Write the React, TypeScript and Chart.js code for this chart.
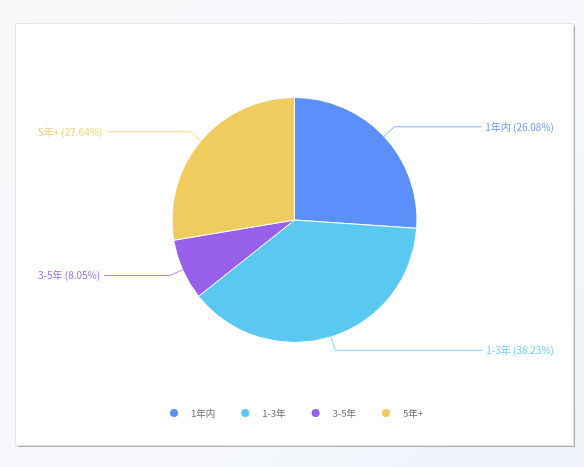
import React, { useEffect, useRef } from "react";
import { Chart, registerables } from "chart.js";

Chart.register(...registerables);

const categories = ["1年内", "1-3年", "3-5年", "5年+"];
const shares = [26.08, 38.23, 8.05, 27.64];
const colors = ["#5B8FF9", "#5BC8F1", "#9661E8", "#F0CB5E"];

const FONT = '"Noto Sans CJK SC", "Noto Sans", sans-serif';

function withAlpha(hex: string, a: number) {
  const n = parseInt(hex.slice(1), 16);
  return `rgba(${(n >> 16) & 255},${(n >> 8) & 255},${n & 255},${a})`;
}

const outerLabels = {
  id: "outerLabels",
  afterDatasetsDraw(chart: any) {
    const ctx = chart.ctx;
    const meta = chart.getDatasetMeta(0);
    const data = chart.data.datasets[0].data as number[];
    const w = chart.width;
    ctx.save();
    ctx.font = `10px ${FONT}`;
    ctx.textBaseline = "middle";
    meta.data.forEach((arc: any, i: number) => {
      const { x, y, startAngle, endAngle, outerRadius } = arc.getProps(
        ["x", "y", "startAngle", "endAngle", "outerRadius"],
        true
      );
      const mid = (startAngle + endAngle) / 2;
      const c = Math.cos(mid);
      const s = Math.sin(mid);
      const x0 = x + c * outerRadius;
      const y0 = y + s * outerRadius;
      const x1 = x + c * (outerRadius + 14);
      const y1 = y + s * (outerRadius + 14);
      const text = `${chart.data.labels[i]} (${data[i].toFixed(2)}%)`;
      const tw = ctx.measureText(text).width;
      const right = c >= 0;
      let x2: number;
      let tx: number;
      if (right) {
        tx = w - 19;
        x2 = tx - tw - 4;
        ctx.textAlign = "right";
      } else {
        tx = 22;
        x2 = tx + tw + 4;
        ctx.textAlign = "left";
      }
      const col = colors[i];
      ctx.strokeStyle = withAlpha(col, 0.75);
      ctx.lineWidth = 1;
      ctx.beginPath();
      ctx.moveTo(x0, y0);
      ctx.lineTo(x1, y1);
      ctx.lineTo(x2, y1);
      ctx.stroke();
      ctx.fillStyle = withAlpha(col, 0.9);
      ctx.fillText(text, tx, y1);
    });
    ctx.restore();
  },
};

const bottomLegend = {
  id: "bottomLegend",
  afterDraw(chart: any) {
    const ctx = chart.ctx;
    const labels = chart.data.labels as string[];
    ctx.save();
    ctx.font = `9.5px ${FONT}`;
    ctx.textBaseline = "middle";
    ctx.textAlign = "left";
    const r = 4;
    const gapText = 17;
    const gapItem = 30;
    const widths = labels.map((l) => ctx.measureText(l).width);
    let total = 0;
    widths.forEach((tw, i) => {
      total += gapText + tw + (i < widths.length - 1 ? gapItem : 0);
    });
    total += r;
    const y = 389;
    let cx = chart.width / 2 - total / 2 + r + 2;
    labels.forEach((l, i) => {
      ctx.fillStyle = colors[i];
      ctx.beginPath();
      ctx.arc(cx, y, r, 0, Math.PI * 2);
      ctx.fill();
      ctx.fillStyle = "#707070";
      ctx.fillText(l, cx + gapText, y);
      cx += gapText + widths[i] + gapItem;
    });
    ctx.restore();
  },
};

function PieChart() {
  const ref = useRef<HTMLCanvasElement>(null);
  useEffect(() => {
    if (!ref.current) return;
    const chart = new Chart(ref.current, {
      type: "pie",
      data: {
        labels: categories,
        datasets: [
          {
            data: shares,
            backgroundColor: colors,
            borderColor: "#ffffff",
            borderWidth: 1,
            hoverOffset: 0,
          },
        ],
      },
      options: {
        animation: false,
        responsive: true,
        maintainAspectRatio: false,
        layout: { padding: { top: 73, bottom: 102, left: 0, right: 0 } },
        plugins: {
          legend: { display: false },
          tooltip: { enabled: false },
        },
      },
      plugins: [outerLabels, bottomLegend],
    });
    return () => chart.destroy();
  }, []);
  return <canvas ref={ref} />;
}

export default function App() {
  return (
    <div
      style={{
        position: "fixed",
        inset: 0,
        background: "linear-gradient(135deg, #f7f8fa 0%, #f5f7fa 60%, #eff3fb 100%)",
      }}
    >
      <div
        style={{
          position: "absolute",
          left: 16,
          top: 24,
          width: 557,
          height: 421,
          background: "#ffffff",
          boxShadow: "0 0 0 1px #e4e5e7, 2px 2px 0 #a9abae",
        }}
      >
        <div style={{ position: "absolute", left: 0, top: 0, width: 557, height: 421 }}>
          <PieChart />
        </div>
      </div>
    </div>
  );
}
